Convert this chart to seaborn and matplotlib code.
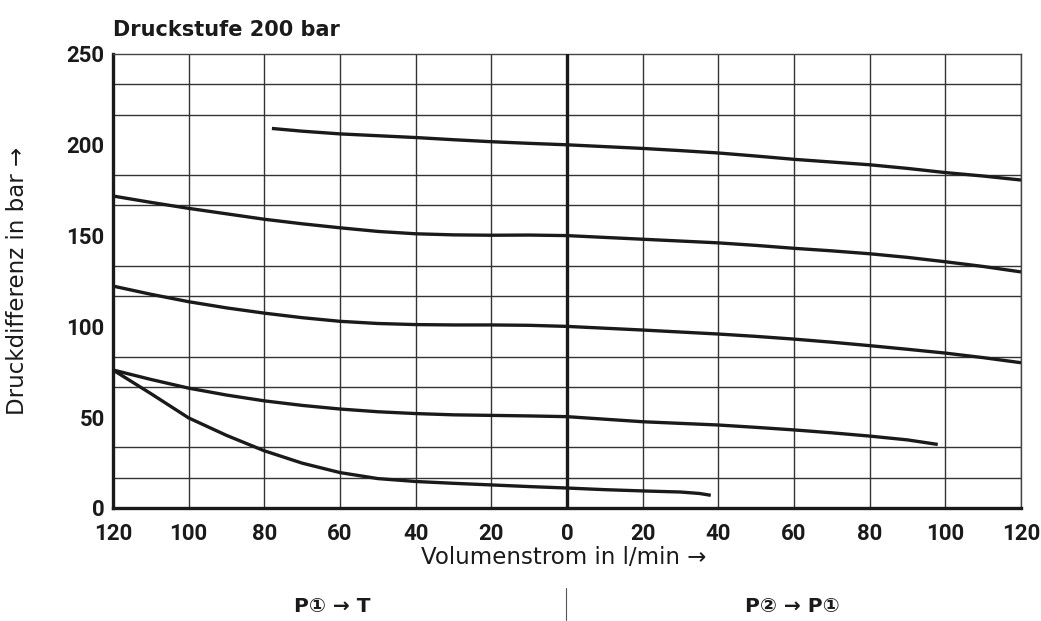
import numpy as np
import pandas as pd
import matplotlib.pyplot as plt
import seaborn as sns
from matplotlib.lines import Line2D

# Kennlinien, Volumenstrom links negativ (P1 -> T), rechts positiv (P2 -> P1)
x_200 = [-78, -70, -60, -50, -40, -30, -20, -10, 0, 10, 20, 30, 40, 50, 60, 70, 80, 90, 100, 110, 120]
y_200 = [209, 207.5, 206, 205, 204, 202.8, 201.7, 200.8, 200, 199, 198, 196.8, 195.5, 193.8, 192, 190.5, 189, 187, 184.7, 182.8, 180.6]

x_150 = [-120, -110, -100, -90, -80, -70, -60, -50, -40, -30, -20, -10, 0, 10, 20, 30, 40, 50, 60, 70, 80, 90, 100, 110, 120]
y_150 = [171.8, 168.3, 165, 162, 159, 156.5, 154.3, 152.3, 151, 150.4, 150.2, 150.3, 150, 149, 148, 147, 146, 144.6, 143, 141.6, 140, 138, 135.6, 133, 130]

x_100 = [-120, -110, -100, -90, -80, -70, -60, -50, -40, -30, -20, -10, 0, 10, 20, 30, 40, 50, 60, 70, 80, 90, 100, 110, 120]
y_100 = [122.2, 117.7, 113.6, 110.2, 107.3, 104.8, 102.8, 101.6, 101, 100.8, 100.8, 100.6, 100, 99, 98, 96.9, 95.8, 94.5, 93, 91.3, 89.4, 87.4, 85.3, 82.8, 80]

x_50 = [-120, -110, -100, -90, -80, -70, -60, -50, -40, -30, -20, -10, 0, 10, 20, 30, 40, 50, 60, 70, 80, 90, 98]
y_50 = [76, 70.8, 66, 62.2, 59, 56.5, 54.5, 53, 52, 51.3, 51, 50.7, 50.3, 48.9, 47.5, 46.6, 45.7, 44.4, 43, 41.4, 39.6, 37.5, 35]

x_10 = [-120, -110, -100, -90, -80, -70, -60, -50, -40, -30, -20, -10, 0, 10, 20, 30, 35, 38]
y_10 = [76, 63, 49.6, 40, 31.5, 24.7, 19.5, 16.2, 14.6, 13.6, 12.7, 11.8, 11, 10.1, 9.4, 8.8, 8, 7]

x_ticks = [-120, -100, -80, -60, -40, -20, 0, 20, 40, 60, 80, 100, 120]
x_labels = ['120', '100', '80', '60', '40', '20', '0', '20', '40', '60', '80', '100', '120']
y_ticks = [0, 50, 100, 150, 200, 250]

curves = [(x_200, y_200), (x_150, y_150), (x_100, y_100), (x_50, y_50), (x_10, y_10)]

sns.set_style('white')
plt.rcParams['font.family'] = ['DejaVu Sans', 'Noto Sans CJK SC']

fig = plt.figure(figsize=(10.41, 6.21), dpi=100)
ax = fig.add_axes([113 / 1041, 1 - 508 / 621, 908 / 1041, 454 / 621])

for xs, ys in curves:
    df = pd.DataFrame({'q': xs, 'dp': ys})
    sns.lineplot(data=df, x='q', y='dp', ax=ax, color='#1a1a1a', lw=2.4,
                 sort=False, solid_capstyle='butt', zorder=4)

ax.set_xlim(-120, 120)
ax.set_ylim(0, 250)
ax.set_xticks(x_ticks)
ax.set_xticklabels(x_labels)
ax.set_yticks(y_ticks)
ax.set_yticks(np.linspace(0, 250, 16), minor=True)
ax.grid(True, which='major', axis='x', color='#333333', lw=1.0, zorder=1)
ax.grid(True, which='minor', axis='y', color='#333333', lw=1.0, zorder=1)
ax.tick_params(which='both', length=0)
ax.tick_params(axis='x', pad=11)
ax.tick_params(axis='y', pad=6)
for lab in ax.get_xticklabels() + ax.get_yticklabels():
    lab.set_fontweight('bold')
    lab.set_fontsize(16)
    lab.set_fontfamily(['Roboto', 'DejaVu Sans'])
    lab.set_color('#1a1a1a')

ax.axvline(0, color='#1a1a1a', lw=2.4, zorder=3)
for side in ['left', 'bottom']:
    ax.spines[side].set_linewidth(2.4)
    ax.spines[side].set_color('#1a1a1a')
for side in ['top', 'right']:
    ax.spines[side].set_linewidth(1.0)
    ax.spines[side].set_color('#444444')
ax.set_xlabel('')
ax.set_ylabel('')

fig.text(113 / 1041, 1 - 30 / 621, 'Druckstufe 200 bar', fontsize=15,
         fontweight='bold', color='#1a1a1a', ha='left', va='center')
fig.text(18 / 1041, 1 - 281 / 621, 'Druckdifferenz in bar \u2192', fontsize=16.5,
         rotation=90, color='#1a1a1a', ha='center', va='center')
fig.text(564 / 1041, 1 - 557 / 621, 'Volumenstrom in l/min \u2192', fontsize=16.5,
         color='#1a1a1a', ha='center', va='center')
fig.text(332 / 1041, 1 - 606 / 621, 'P\u2460 \u2192 T', fontsize=14.5,
         fontweight='bold', color='#1a1a1a', ha='center', va='center')
fig.text(792 / 1041, 1 - 606 / 621, 'P\u2461 \u2192 P\u2460', fontsize=14.5,
         fontweight='bold', color='#1a1a1a', ha='center', va='center')
fig.add_artist(Line2D([566 / 1041, 566 / 1041], [1 - 588 / 621, 1 - 620 / 621],
                      transform=fig.transFigure, color='#555555', lw=0.8))

fig.savefig('out.png', dpi=100)
